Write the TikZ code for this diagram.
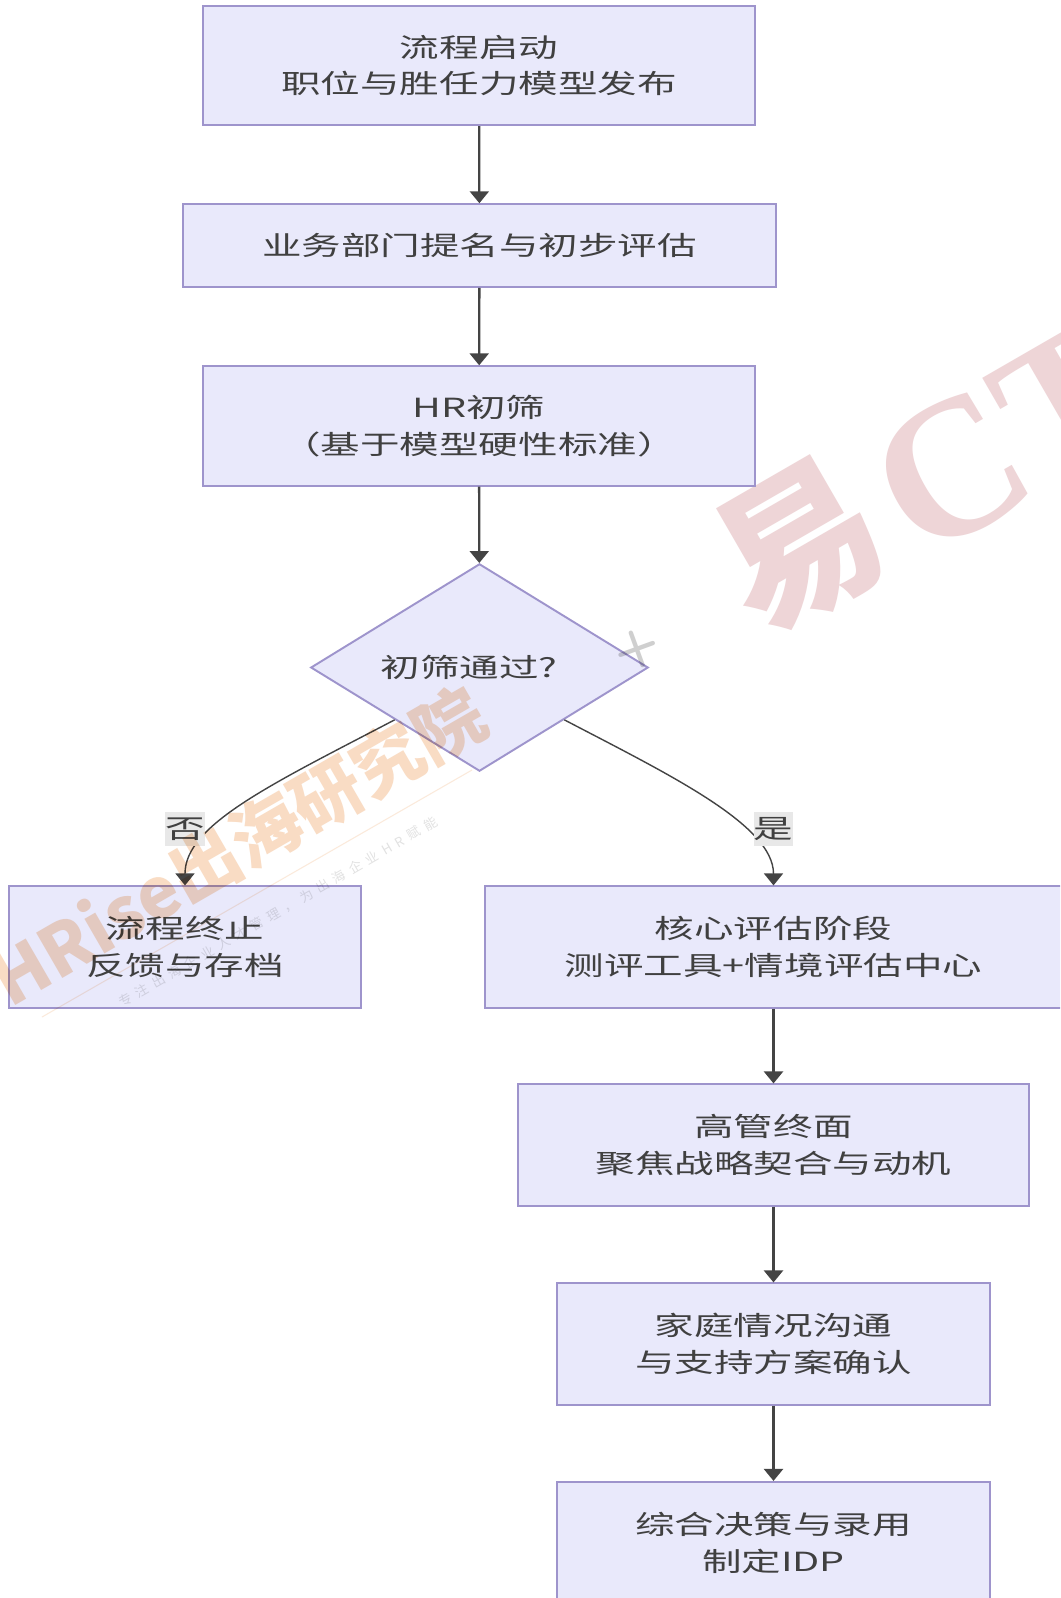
\documentclass[tikz,border=0pt]{standalone}
\usepackage{fontspec}
\usetikzlibrary{arrows.meta,shapes.geometric}
\newfontfamily\cjk[FakeStretch=1.5]{Noto Sans CJK SC}
\newfontfamily\cjkmark{Noto Sans CJK SC}
\newfontfamily\cjksmall[LetterSpace=44]{Noto Sans CJK SC}
\setmainfont{Liberation Serif}
\definecolor{boxfill}{HTML}{E9E9FB}
\definecolor{boxline}{HTML}{9E94CC}
\definecolor{edgeline}{HTML}{444444}
\definecolor{markorange}{HTML}{F9DCC4}
\definecolor{markpink}{HTML}{EED5D7}
\definecolor{markgray}{HTML}{CFCFCF}
\tikzset{
  stage/.style={draw=boxline,fill=boxfill,line width=1.1pt,align=center,inner sep=0pt,
    font=\cjk\fontsize{15}{21}\selectfont,text=black!75},
  pick/.style={stage,shape=diamond,aspect=1.63,minimum width=192pt,minimum height=118pt},
  branch/.style={fill=black!9,inner sep=0pt,minimum height=19pt,font=\cjk\fontsize{15}{18}\selectfont,text=black!75},
  flow/.style={edgeline,line width=1.3pt},
  curved/.style={edgeline,line width=.8pt}
}
\begin{document}
\begin{tikzpicture}[>={Triangle[length=6.8pt,width=10.8pt]},x=.569pt,y=-.569pt]
\useasboundingbox (0,0) rectangle (1060,1598);
\clip (0,0) rectangle (1060,1598);
\fill[white] (0,0) rectangle (1060,1598);

\node[rotate=30,text=markpink,font=\cjkmark\bfseries\fontsize{92}{92}\selectfont] (M1) at (800,546){易};
\node[rotate=30,text=markpink,anchor=west,font=\bfseries\fontsize{112}{112}\selectfont] (M2) at (884,510){CT};

\node[stage,minimum width=314pt,minimum height=68pt] (A) at (479,65.5){流程启动\\职位与胜任力模型发布};
\node[stage,minimum width=337pt,minimum height=47pt] (B) at (479.5,245.5){业务部门提名与初步评估};
\node[stage,minimum width=314pt,minimum height=68pt] (C) at (479,426){HR初筛\\（基于模型硬性标准）};
\node[pick] (D) at (479.5,667.5){初筛通过?\hspace{12pt}};
\node[stage,minimum width=200pt,minimum height=69pt] (E) at (185,947){流程终止\\反馈与存档};
\node[stage,minimum width=328pt,minimum height=69pt] (F) at (773.5,947){核心评估阶段\\测评工具+情境评估中心};
\node[stage,minimum width=291pt,minimum height=69pt] (G) at (773.5,1145){高管终面\\聚焦战略契合与动机};
\node[stage,minimum width=246pt,minimum height=69pt] (H) at (773.5,1344){家庭情况沟通\\与支持方案确认};
\node[stage,minimum width=246pt,minimum height=69pt] (I) at (773.5,1542.5){综合决策与录用\\制定IDP};

\draw[->,flow](A)--(B);
\draw[->,flow](B)--(C);
\draw[->,flow](C)--(D);
\draw[->,curved](D.south west) .. controls (270,785) and (185,825) .. (E.north);
\draw[->,curved](D.south east) .. controls (670,775) and (773.5,825) .. (F.north);
\draw[->,flow](F)--(G);
\draw[->,flow](G)--(H);
\draw[->,flow](H)--(I);

\node[branch] (no) at (185,829){否};
\node[branch] (yes) at (773.5,829){是};

% watermark over the chart
\begin{scope}[blend mode=multiply]
\node[rotate=30,text=markorange,font=\cjkmark\bfseries\fontsize{40}{40}\selectfont] (M3) at (238,846){HRise出海研究院};
\node[rotate=30,text=markgray,opacity=.6,font=\cjksmall\fontsize{7.5}{7.5}\selectfont] (M4) at (278,912){专注出海企业人才管理，为出海企业HR赋能};
\coordinate (L1) at (42,1017);
\coordinate (L2) at (472,770);
\draw[markorange,opacity=.6,line width=.6pt](L1)--(L2);
\node[rotate=20,text=markgray,font=\sffamily\bfseries\fontsize{30}{30}\selectfont] (M5) at (637,649){+};
\end{scope}
\end{tikzpicture}
\end{document}
